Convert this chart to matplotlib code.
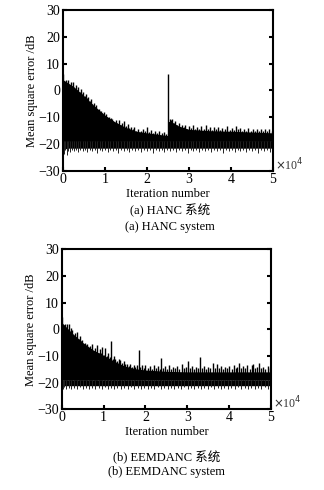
import matplotlib
matplotlib.use("Agg")
import matplotlib.pyplot as plt

# iteration positions in units of 10^4, values in dB
# HANC: dense part of the band (top edge / bottom edge)
hanc_top_x = [0.00, 0.25, 0.50, 0.75, 1.00, 1.25, 1.50, 1.75, 2.00, 2.25, 2.49, 2.50,
              2.60, 2.75, 3.00, 3.50, 4.00, 4.50, 5.00]
hanc_top = [4.0, 1.5, -2.0, -5.8, -9.2, -11.8, -13.8, -15.2, -15.8, -16.3, -16.8, -11.5,
            -11.8, -13.2, -14.5, -15.0, -15.2, -15.5, -15.8]
hanc_bot_x = [0.00, 0.05, 0.10, 5.00]
hanc_bot = [-23.0, -21.8, -21.5, -21.5]
# HANC: peaks of the noise above the dense part
hanc_peak_x = [0.01, 0.04, 0.07, 0.10, 0.13, 0.16, 0.19, 0.22, 0.25, 0.28, 0.31, 0.34, 0.37,
               0.40, 0.43, 0.46, 0.49, 0.52, 0.55, 0.58, 0.61, 0.64, 0.67, 0.70, 0.73, 0.76,
               0.79, 0.82, 0.85, 0.88, 0.91, 0.94, 0.97, 1.00, 1.03, 1.06, 1.09, 1.12, 1.15,
               1.18, 1.22, 1.26, 1.30, 1.34, 1.38, 1.42, 1.46, 1.50, 1.54, 1.58, 1.62, 1.66,
               1.70, 1.75, 1.80, 1.85, 1.90, 1.95, 2.00, 2.05, 2.10, 2.15, 2.20, 2.25, 2.30,
               2.35, 2.40, 2.45, 2.50, 2.54, 2.57, 2.60, 2.64, 2.68, 2.72, 2.76, 2.80, 2.84,
               2.88, 2.92, 2.96, 3.00, 3.05, 3.10, 3.15, 3.20, 3.25, 3.30, 3.35, 3.40, 3.45,
               3.50, 3.55, 3.60, 3.65, 3.70, 3.75, 3.80, 3.86, 3.92, 3.97, 4.02, 4.07, 4.12,
               4.17, 4.22, 4.27, 4.32, 4.37, 4.42, 4.47, 4.52, 4.57, 4.62, 4.67, 4.72, 4.77,
               4.82, 4.87, 4.92, 4.97]
hanc_peak = [6.0, 2.5, 4.0, 1.5, 3.8, 2.0, 3.0, 1.0, 3.2, 0.5, 2.0, 0.0, 1.3,
             -0.5, 0.5, -1.5, -0.6, -2.0, -1.2, -3.0, -2.5, -4.0, -3.2, -5.0, -4.8, -6.0,
             -5.5, -7.0, -6.8, -8.0, -7.5, -8.5, -8.0, -9.5, -8.8, -10.0, -9.8, -11.0, -10.2,
             -10.6, -11.8, -11.0, -12.2, -11.2, -12.8, -12.0, -11.5, -13.1, -12.5, -14.0, -13.5, -14.5,
             -13.8, -15.0, -14.2, -15.2, -14.5, -15.0, -13.8, -15.5, -14.8, -15.8, -15.0, -16.0, -15.2,
             -16.0, -15.5, -16.2, 6.2, -10.5, -11.0, -10.8, -12.0, -11.5, -12.8, -12.2, -13.5, -12.8,
             -13.8, -13.0, -14.2, -13.2, -14.0, -12.8, -14.2, -13.5, -14.5, -13.2, -14.5, -13.0, -14.2,
             -13.8, -14.8, -13.5, -14.5, -13.8, -14.8, -14.0, -14.5, -13.2, -14.8, -14.0, -14.8, -13.2,
             -14.5, -14.0, -15.0, -14.2, -15.0, -14.0, -15.2, -14.5, -15.0, -14.2, -15.2, -14.5, -15.0,
             -14.2, -15.2, -14.5, -15.0]
# HANC: downward dips of the noise below the dense part
hanc_dip_x = [0.01, 0.03, 0.06, 0.09, 0.13, 0.17, 0.21, 0.26, 0.31, 0.36, 0.41, 0.47, 0.53,
              0.58, 0.64, 0.70, 0.76, 0.82, 0.88, 0.94, 1.00, 1.07, 1.13, 1.19, 1.26, 1.32,
              1.39, 1.45, 1.52, 1.58, 1.65, 1.72, 1.79, 1.86, 1.93, 2.00, 2.07, 2.14, 2.21,
              2.28, 2.35, 2.42, 2.48, 2.55, 2.62, 2.69, 2.76, 2.83, 2.90, 2.97, 3.04, 3.11,
              3.18, 3.25, 3.32, 3.39, 3.46, 3.53, 3.60, 3.67, 3.74, 3.81, 3.88, 3.95, 4.02,
              4.09, 4.16, 4.23, 4.30, 4.37, 4.44, 4.51, 4.58, 4.65, 4.72, 4.79, 4.86, 4.93, 4.98]
hanc_dip = [-25.0, -23.5, -22.2, -24.0, -22.4, -23.0, -22.0, -22.6, -22.2, -23.1, -22.1, -22.6, -22.0,
            -23.0, -22.3, -22.5, -22.0, -23.2, -22.2, -22.5, -22.1, -23.0, -22.2, -22.6, -22.0, -23.2,
            -22.2, -22.5, -22.0, -22.9, -22.2, -22.6, -22.0, -23.0, -22.3, -22.6, -22.1, -23.2, -22.2,
            -22.5, -22.1, -23.0, -22.2, -22.6, -22.0, -23.0, -22.2, -22.6, -22.1, -23.2, -22.2, -22.5,
            -22.0, -22.9, -22.2, -22.6, -22.0, -23.0, -22.3, -22.6, -22.1, -23.2, -22.2, -22.5, -22.1,
            -23.0, -22.2, -22.6, -22.0, -23.0, -22.2, -22.6, -22.1, -23.2, -22.2, -22.5, -22.0, -22.9, -22.2]

# EEMDANC
eemd_top_x = [0.00, 0.25, 0.50, 0.75, 1.00, 1.25, 1.50, 1.75, 2.00, 2.50, 3.00, 4.00, 5.00]
eemd_top = [2.5, -1.5, -5.0, -7.8, -9.8, -12.0, -13.8, -14.8, -15.3, -15.8, -16.0, -16.0, -16.0]
eemd_bot_x = [0.00, 0.05, 5.00]
eemd_bot = [-21.8, -21.2, -21.2]
eemd_peak_x = [0.01, 0.04, 0.07, 0.10, 0.13, 0.16, 0.19, 0.22, 0.25, 0.28, 0.31, 0.34, 0.37,
               0.40, 0.43, 0.46, 0.49, 0.52, 0.55, 0.58, 0.61, 0.64, 0.67, 0.70, 0.73, 0.76,
               0.79, 0.82, 0.85, 0.88, 0.91, 0.94, 0.97, 1.00, 1.04, 1.08, 1.11, 1.14, 1.18,
               1.22, 1.25, 1.28, 1.32, 1.36, 1.40, 1.44, 1.48, 1.52, 1.56, 1.60, 1.64, 1.68,
               1.72, 1.76, 1.80, 1.84, 1.88, 1.92, 1.96, 2.00, 2.05, 2.10, 2.15, 2.20, 2.25,
               2.30, 2.34, 2.38, 2.42, 2.46, 2.51, 2.56, 2.61, 2.66, 2.71, 2.76, 2.81, 2.87,
               2.92, 2.97, 3.02, 3.07, 3.12, 3.17, 3.22, 3.26, 3.30, 3.35, 3.40, 3.45, 3.50,
               3.55, 3.62, 3.66, 3.71, 3.76, 3.81, 3.86, 3.91, 3.96, 4.01, 4.06, 4.11, 4.16,
               4.20, 4.24, 4.29, 4.34, 4.39, 4.44, 4.49, 4.54, 4.58, 4.63, 4.68, 4.72, 4.77,
               4.82, 4.87, 4.92, 4.97]
eemd_peak = [4.5, 1.5, 2.0, 0.0, 1.8, 2.1, -1.0, 0.5, -0.4, -2.5, -1.5, -3.0, -1.0,
             -3.5, -2.5, -4.5, -4.1, -6.0, -5.0, -6.5, -5.4, -7.0, -6.2, -7.5, -5.5, -8.0,
             -7.0, -8.5, -6.0, -8.8, -7.5, -9.0, -6.6, -9.5, -7.0, -10.0, -9.0, -10.5, -4.5,
             -11.0, -10.2, -11.0, -12.0, -11.2, -11.6, -12.8, -12.0, -13.2, -12.9, -13.8, -13.0, -14.0,
             -13.3, -14.2, -13.5, -7.9, -14.0, -13.5, -14.5, -13.6, -14.5, -13.8, -14.8, -13.5, -14.6,
             -13.8, -14.8, -10.6, -14.5, -13.8, -14.8, -13.6, -14.8, -14.0, -14.6, -13.8, -14.8, -12.9,
             -14.6, -14.0, -12.0, -14.5, -13.8, -14.8, -14.0, -14.6, -10.4, -14.5, -13.8, -14.8, -14.0,
             -14.6, -12.6, -14.5, -12.9, -14.6, -13.8, -14.8, -14.0, -14.6, -13.8, -14.8, -13.5, -14.6,
             -14.0, -12.6, -14.5, -13.8, -14.6, -13.6, -14.8, -13.5, -13.0, -14.6, -14.0, -12.6, -14.6,
             -14.0, -14.8, -13.8, -14.5]
eemd_dip_x = [0.02, 0.06, 0.11, 0.17, 0.23, 0.30, 0.37, 0.44, 0.51, 0.58, 0.66, 0.73, 0.80,
              0.88, 0.95, 1.02, 1.10, 1.18, 1.25, 1.33, 1.41, 1.49, 1.57, 1.65, 1.73, 1.81,
              1.89, 1.97, 2.05, 2.13, 2.21, 2.29, 2.37, 2.45, 2.53, 2.61, 2.69, 2.77, 2.85,
              2.93, 3.01, 3.09, 3.17, 3.25, 3.33, 3.41, 3.49, 3.57, 3.65, 3.73, 3.81, 3.89,
              3.97, 4.05, 4.13, 4.21, 4.29, 4.37, 4.45, 4.53, 4.61, 4.69, 4.77, 4.85, 4.93, 4.98]
eemd_dip = [-22.5, -21.8, -22.4, -21.9, -22.6, -22.0, -22.3, -21.8, -22.5, -22.0, -22.4, -21.9, -22.6,
            -22.0, -22.3, -21.8, -22.6, -22.0, -22.4, -21.9, -22.5, -22.0, -22.3, -21.8, -22.6, -22.0,
            -22.4, -21.9, -22.5, -22.0, -22.3, -21.8, -22.6, -22.0, -22.4, -21.9, -22.5, -22.0, -22.3,
            -21.8, -22.6, -22.0, -22.4, -21.9, -22.5, -22.0, -22.3, -21.8, -22.6, -22.0, -22.4, -21.9,
            -22.5, -22.0, -22.3, -21.8, -22.6, -22.0, -22.4, -21.9, -22.5, -22.0, -22.3, -21.8, -22.6, -22.0]

x_ticks = [0, 1, 2, 3, 4, 5]
y_ticks = [-30, -20, -10, 0, 10, 20, 30]

plt.rcParams["font.family"] = ["Liberation Serif", "Noto Sans CJK SC"]

fig = plt.figure(figsize=(3.24, 4.90), dpi=100)
ax_a = fig.add_axes([0.194, 0.651, 0.648, 0.329])
ax_b = fig.add_axes([0.191, 0.165, 0.645, 0.326])

panels = [
    (ax_a, hanc_top_x, hanc_top, hanc_bot_x, hanc_bot, hanc_peak_x, hanc_peak, hanc_dip_x, hanc_dip),
    (ax_b, eemd_top_x, eemd_top, eemd_bot_x, eemd_bot, eemd_peak_x, eemd_peak, eemd_dip_x, eemd_dip),
]

for ax, tx, ty, bx, by, px, py, dx, dy in panels:
    mid = -19  # a level that always lies inside the band
    ax.fill_between(tx, ty, mid, color="black", lw=0)
    ax.fill_between(bx, by, mid, color="black", lw=0)
    ax.vlines(px, mid, py, color="black", lw=1.0)
    ax.vlines(dx, mid, dy, color="#222222", lw=0.7)

    ax.set_xlim(0, 5)
    ax.set_ylim(-30, 30)
    ax.set_xticks(x_ticks)
    ax.set_yticks(y_ticks)
    ax.tick_params(direction="in", length=3, width=1.5, labelsize=10,
                   right=True, top=False)
    ax.tick_params(axis="x", pad=1.5)
    ax.tick_params(axis="y", pad=2)
    for s in ax.spines.values():
        s.set_linewidth(1.5)
    ax.set_ylabel("Mean square error /dB", fontsize=9)
    ax.yaxis.set_label_coords(-0.12, 0.5)
    ax.set_xlabel("Iteration number", fontsize=9)
    ax.xaxis.set_label_coords(0.5, -0.105)
    ax.text(1.01, 0.04, r"$\times$10$^4$", transform=ax.transAxes, fontsize=8.5,
            ha="left", va="center", color="#333333")

fig.text(0.525, 0.571, "(a) HANC 系统", ha="center", va="center", fontsize=9)
fig.text(0.525, 0.537, "(a) HANC system", ha="center", va="center", fontsize=9)
fig.text(0.515, 0.067, "(b) EEMDANC 系统", ha="center", va="center", fontsize=9)
fig.text(0.515, 0.037, "(b) EEMDANC system", ha="center", va="center", fontsize=9)

fig.savefig("out.png", dpi=100)
